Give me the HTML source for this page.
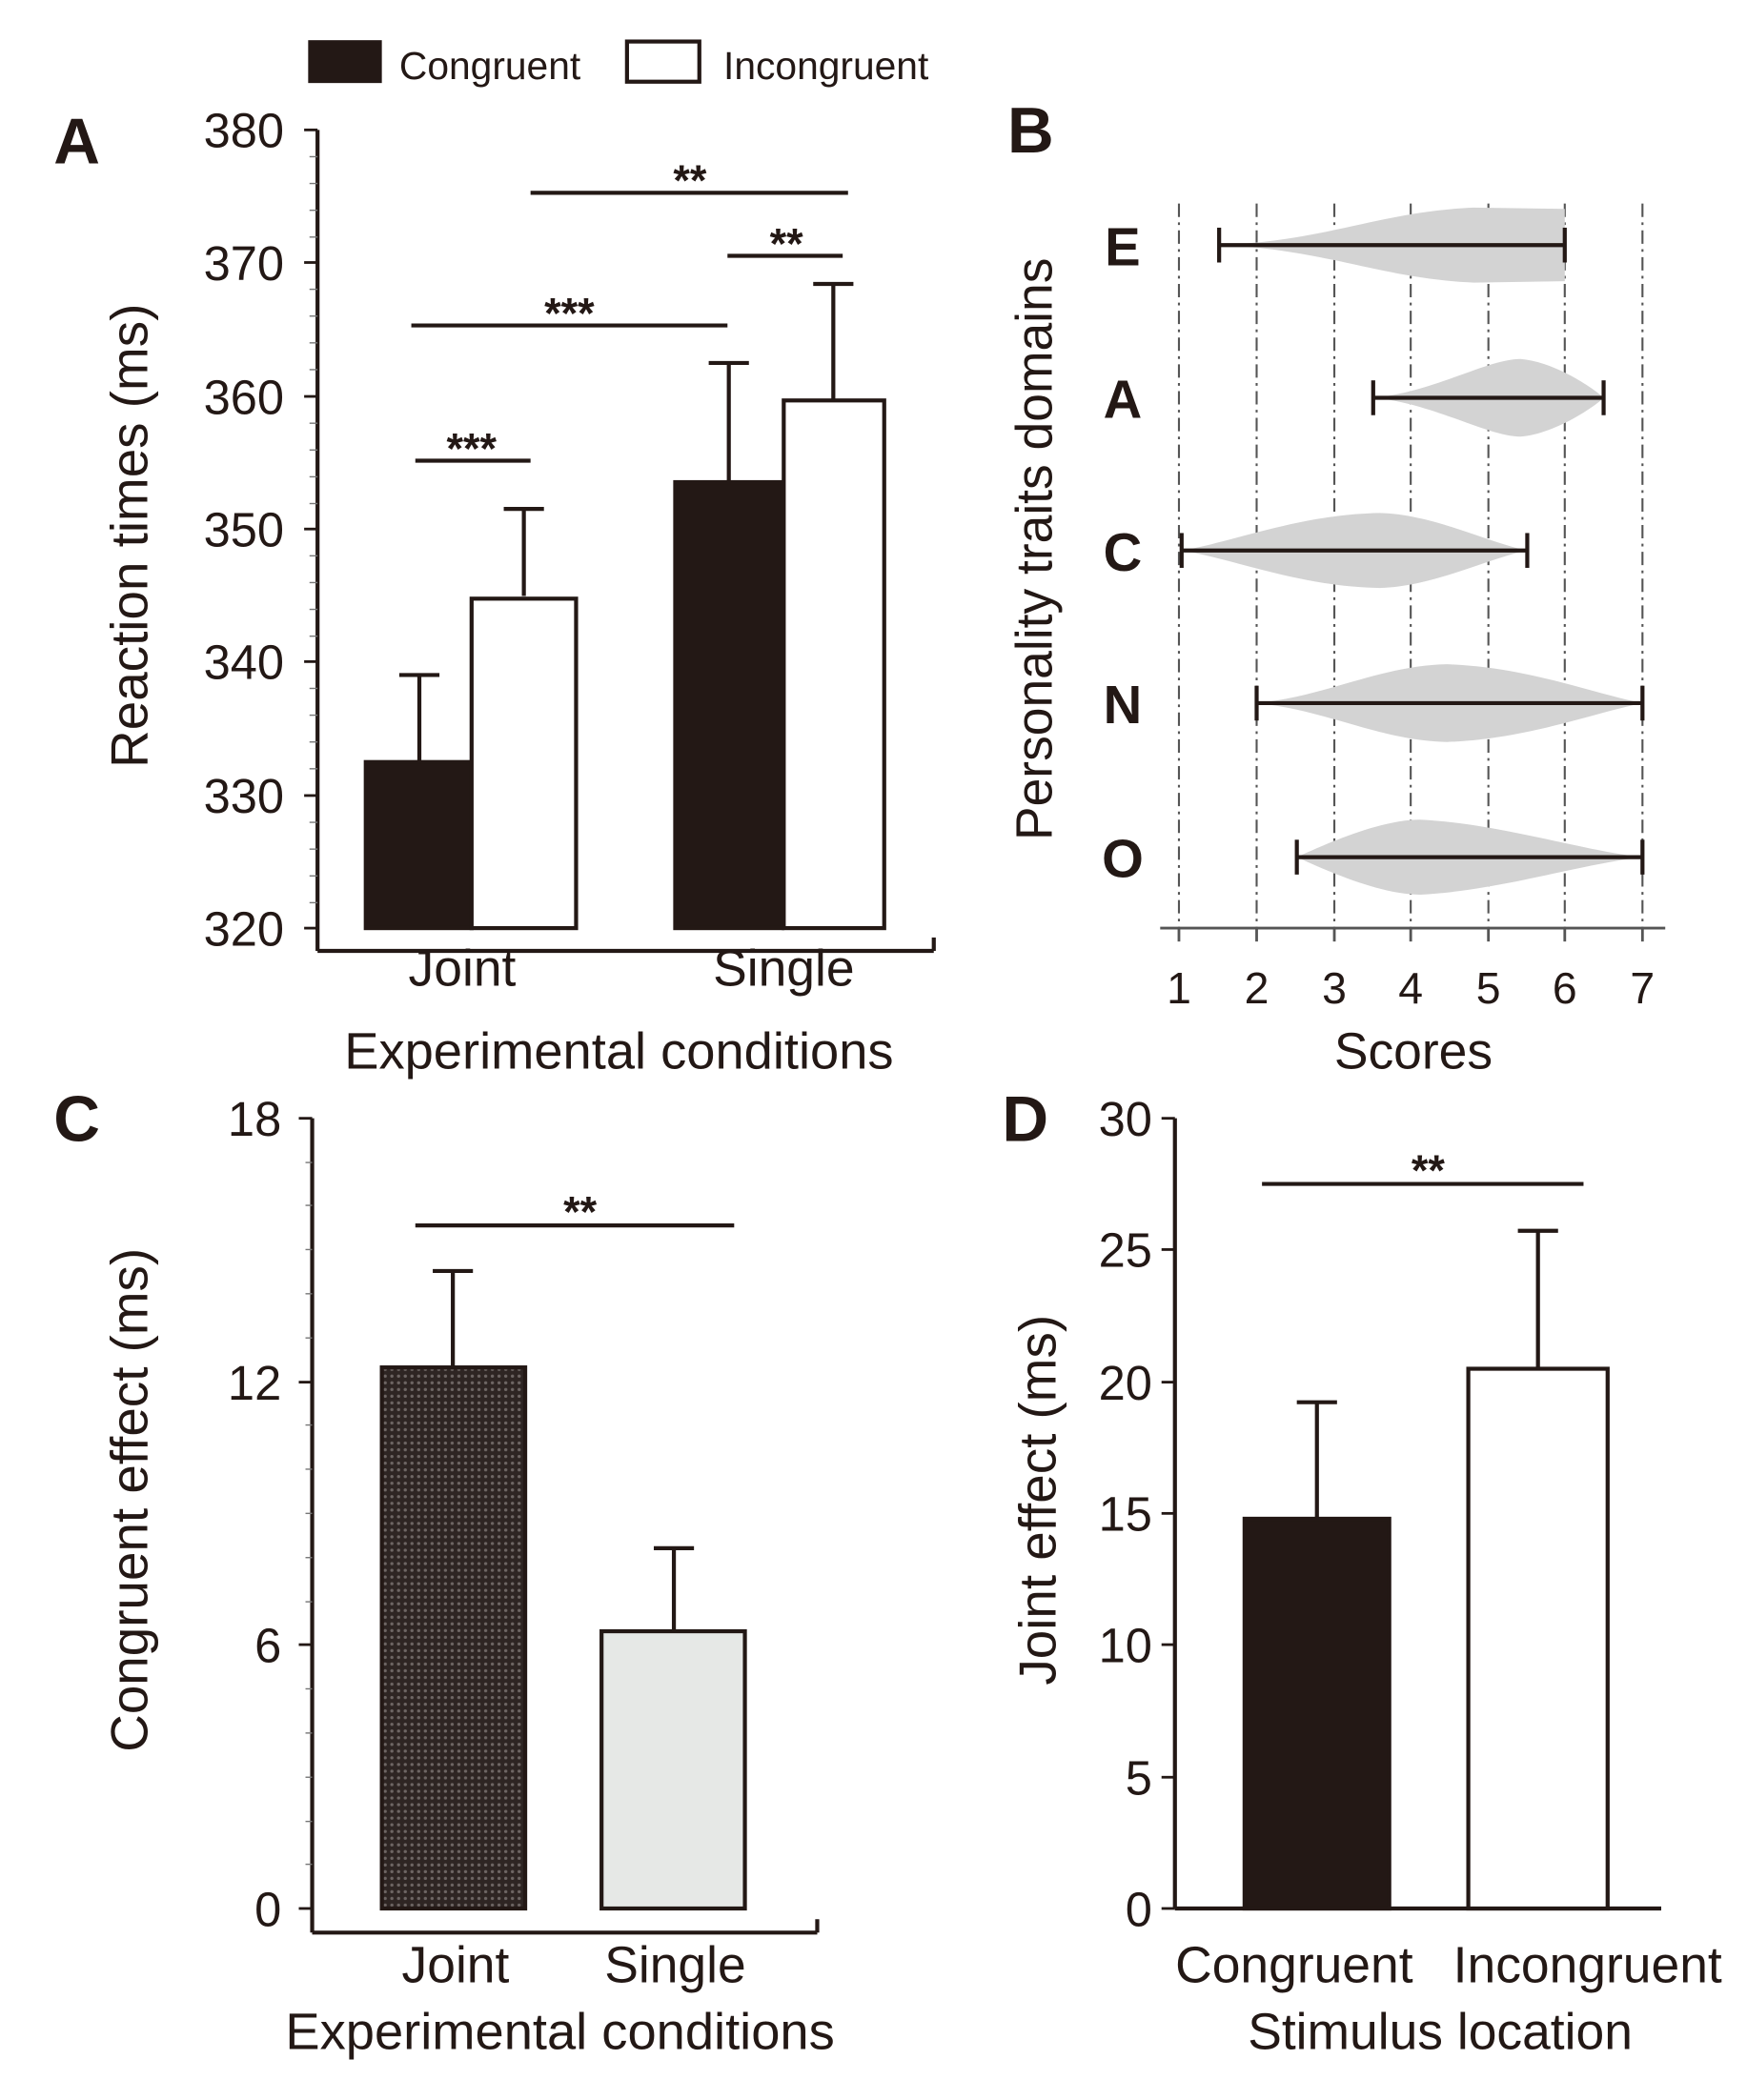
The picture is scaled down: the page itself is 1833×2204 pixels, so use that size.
<!DOCTYPE html>
<html><head><meta charset="utf-8"><style>
html,body{margin:0;padding:0;background:#fff}
svg{display:block}
text{font-family:"Liberation Sans",Arial,sans-serif;fill:#231815}
</style></head><body>
<svg width="1833" height="2204" viewBox="0 0 1304 1568" xmlns="http://www.w3.org/2000/svg">
<defs>
<pattern id="hatch" width="5" height="5" patternUnits="userSpaceOnUse">
<rect width="5" height="5" fill="#2e2523"/>
<circle cx="2.5" cy="2.5" r="1.2" fill="#6e6664"/>
</pattern>
</defs>
<g stroke="#231815" stroke-width="3" fill="none">
<line x1="237" y1="97" x2="237" y2="710"/>
<line x1="237" y1="710" x2="697" y2="710"/>
<line x1="697" y1="700" x2="697" y2="710"/>
</g>
<g stroke="#231815" stroke-width="2">
<line x1="227" y1="97" x2="237" y2="97"/><line x1="227" y1="196" x2="237" y2="196"/>
<line x1="227" y1="296" x2="237" y2="296"/><line x1="227" y1="395" x2="237" y2="395"/>
<line x1="227" y1="494" x2="237" y2="494"/><line x1="227" y1="594" x2="237" y2="594"/>
<line x1="227" y1="693" x2="237" y2="693"/>
</g>
<g stroke="#777" stroke-width="1">
<line x1="231" y1="117" x2="237" y2="117"/><line x1="231" y1="137" x2="237" y2="137"/><line x1="231" y1="157" x2="237" y2="157"/><line x1="231" y1="177" x2="237" y2="177"/>
<line x1="231" y1="216" x2="237" y2="216"/><line x1="231" y1="236" x2="237" y2="236"/><line x1="231" y1="256" x2="237" y2="256"/><line x1="231" y1="276" x2="237" y2="276"/>
<line x1="231" y1="316" x2="237" y2="316"/><line x1="231" y1="336" x2="237" y2="336"/><line x1="231" y1="356" x2="237" y2="356"/><line x1="231" y1="376" x2="237" y2="376"/>
<line x1="231" y1="415" x2="237" y2="415"/><line x1="231" y1="435" x2="237" y2="435"/><line x1="231" y1="455" x2="237" y2="455"/><line x1="231" y1="475" x2="237" y2="475"/>
<line x1="231" y1="514" x2="237" y2="514"/><line x1="231" y1="534" x2="237" y2="534"/><line x1="231" y1="554" x2="237" y2="554"/><line x1="231" y1="574" x2="237" y2="574"/>
<line x1="231" y1="614" x2="237" y2="614"/><line x1="231" y1="634" x2="237" y2="634"/><line x1="231" y1="654" x2="237" y2="654"/><line x1="231" y1="674" x2="237" y2="674"/>
</g>
<g font-size="36" text-anchor="end">
<text x="212" y="110">380</text><text x="212" y="209">370</text><text x="212" y="309">360</text>
<text x="212" y="408">350</text><text x="212" y="507">340</text><text x="212" y="607">330</text>
<text x="212" y="706">320</text>
</g>
<text x="40" y="122" font-size="48" font-weight="bold">A</text>
<text transform="translate(110,400) rotate(-90)" font-size="39" text-anchor="middle">Reaction times (ms)</text>
<rect x="230" y="30" width="55" height="32" fill="#231815"/>
<text x="298" y="59" font-size="29">Congruent</text>
<rect x="468" y="31" width="54" height="30" fill="#fff" stroke="#231815" stroke-width="3"/>
<text x="540" y="59" font-size="29">Incongruent</text>
<g stroke="#231815" stroke-width="3">
<line x1="313" y1="569" x2="313" y2="504"/><line x1="298" y1="504" x2="328" y2="504"/>
<line x1="391" y1="445" x2="391" y2="380"/><line x1="376" y1="380" x2="406" y2="380"/>
<line x1="544" y1="360" x2="544" y2="271"/><line x1="529" y1="271" x2="559" y2="271"/>
<line x1="622" y1="298" x2="622" y2="212"/><line x1="607" y1="212" x2="637" y2="212"/>
<rect x="273" y="569" width="79" height="124" fill="#231815"/>
<rect x="352" y="447" width="78" height="246" fill="#fff"/>
<rect x="504" y="360" width="80" height="333" fill="#231815"/>
<rect x="585" y="299" width="75" height="394" fill="#fff"/>
<line x1="310" y1="344" x2="396" y2="344"/>
<line x1="307" y1="243" x2="543" y2="243"/>
<line x1="543" y1="191" x2="629" y2="191"/>
<line x1="396" y1="144" x2="633" y2="144"/>
</g>
<g font-size="32" text-anchor="middle" font-weight="bold">
<text x="352" y="346">***</text><text x="425" y="245">***</text>
<text x="587" y="193">**</text><text x="515" y="146">**</text>
</g>
<g font-size="38" text-anchor="middle">
<text x="345" y="736">Joint</text><text x="585" y="736">Single</text>
<text x="462" y="798" textLength="410" lengthAdjust="spacingAndGlyphs">Experimental conditions</text>
</g>
<text x="752" y="114" font-size="48" font-weight="bold">B</text>
<text transform="translate(785,410) rotate(-90)" font-size="38" text-anchor="middle">Personality traits domains</text>
<g stroke="#555" stroke-width="1.5" stroke-dasharray="10,4,2,4">
<line x1="880" y1="152" x2="880" y2="693"/><line x1="938" y1="152" x2="938" y2="693"/>
<line x1="996" y1="152" x2="996" y2="693"/><line x1="1053" y1="152" x2="1053" y2="693"/>
<line x1="1111" y1="152" x2="1111" y2="693"/><line x1="1168" y1="152" x2="1168" y2="693"/>
<line x1="1226" y1="152" x2="1226" y2="693"/>
</g>
<g fill="#d3d3d3">
<path d="M910,183 C990,180 1030,158 1100,155 L1168,156 L1168,210 L1100,211 C1030,208 990,186 910,183Z"/>
<path d="M1025,297 C1070,293 1110,268 1135,268 C1160,270 1190,290 1197,297 C1190,304 1160,324 1135,326 C1110,326 1070,301 1025,297Z"/>
<path d="M882,411 C920,405 970,384 1030,383 C1070,384 1110,405 1140,411 C1110,417 1070,438 1030,439 C970,438 920,417 882,411Z"/>
<path d="M938,525 C990,520 1030,497 1080,496 C1140,498 1190,518 1226,525 C1190,532 1140,552 1080,554 C1030,553 990,530 938,525Z"/>
<path d="M968,640 C990,630 1030,612 1060,612 C1120,615 1180,635 1226,640 C1180,645 1120,665 1060,668 C1030,668 990,650 968,640Z"/>
</g>
<g stroke="#231815" stroke-width="3">
<line x1="910" y1="183" x2="1168" y2="183"/><line x1="910" y1="170" x2="910" y2="196"/><line x1="1168" y1="170" x2="1168" y2="196"/>
<line x1="1025" y1="297" x2="1197" y2="297"/><line x1="1025" y1="284" x2="1025" y2="310"/><line x1="1197" y1="284" x2="1197" y2="310"/>
<line x1="882" y1="411" x2="1140" y2="411"/><line x1="882" y1="398" x2="882" y2="424"/><line x1="1140" y1="398" x2="1140" y2="424"/>
<line x1="938" y1="525" x2="1226" y2="525"/><line x1="938" y1="512" x2="938" y2="538"/><line x1="1226" y1="512" x2="1226" y2="538"/>
<line x1="968" y1="640" x2="1226" y2="640"/><line x1="968" y1="627" x2="968" y2="653"/><line x1="1226" y1="627" x2="1226" y2="653"/>
</g>
<line x1="866" y1="693" x2="1243" y2="693" stroke="#555" stroke-width="2"/>
<g stroke="#555" stroke-width="2">
<line x1="880" y1="693" x2="880" y2="703"/><line x1="938" y1="693" x2="938" y2="703"/><line x1="996" y1="693" x2="996" y2="703"/>
<line x1="1053" y1="693" x2="1053" y2="703"/><line x1="1111" y1="693" x2="1111" y2="703"/><line x1="1168" y1="693" x2="1168" y2="703"/><line x1="1226" y1="693" x2="1226" y2="703"/>
</g>
<g font-size="40" font-weight="bold" text-anchor="middle">
<text x="838" y="198">E</text><text x="838" y="312">A</text><text x="838" y="426">C</text>
<text x="838" y="540">N</text><text x="838" y="655">O</text>
</g>
<g font-size="33" text-anchor="middle">
<text x="880" y="749">1</text><text x="938" y="749">2</text><text x="996" y="749">3</text><text x="1053" y="749">4</text>
<text x="1111" y="749">5</text><text x="1168" y="749">6</text><text x="1226" y="749">7</text>
</g>
<text x="1055" y="798" font-size="38" text-anchor="middle">Scores</text>
<text x="40" y="852" font-size="48" font-weight="bold">C</text>
<text transform="translate(110,1120) rotate(-90)" font-size="39" text-anchor="middle">Congruent effect (ms)</text>
<g stroke="#231815" stroke-width="3" fill="none">
<line x1="233" y1="835" x2="233" y2="1443"/>
<line x1="233" y1="1443" x2="610" y2="1443"/><line x1="610" y1="1433" x2="610" y2="1443"/>
</g>
<g stroke="#231815" stroke-width="2">
<line x1="223" y1="835" x2="233" y2="835"/><line x1="223" y1="1032" x2="233" y2="1032"/>
<line x1="223" y1="1228" x2="233" y2="1228"/><line x1="223" y1="1425" x2="233" y2="1425"/>
</g>
<g stroke="#777" stroke-width="1">
<line x1="228" y1="868" x2="233" y2="868"/><line x1="228" y1="900" x2="233" y2="900"/><line x1="228" y1="933" x2="233" y2="933"/><line x1="228" y1="966" x2="233" y2="966"/><line x1="228" y1="999" x2="233" y2="999"/>
<line x1="228" y1="1064" x2="233" y2="1064"/><line x1="228" y1="1097" x2="233" y2="1097"/><line x1="228" y1="1130" x2="233" y2="1130"/><line x1="228" y1="1163" x2="233" y2="1163"/><line x1="228" y1="1196" x2="233" y2="1196"/>
<line x1="228" y1="1261" x2="233" y2="1261"/><line x1="228" y1="1294" x2="233" y2="1294"/><line x1="228" y1="1327" x2="233" y2="1327"/><line x1="228" y1="1360" x2="233" y2="1360"/><line x1="228" y1="1392" x2="233" y2="1392"/>
</g>
<g font-size="36" text-anchor="end">
<text x="210" y="848">18</text><text x="210" y="1045">12</text><text x="210" y="1241">6</text><text x="210" y="1438">0</text>
</g>
<g stroke="#231815" stroke-width="3">
<line x1="338" y1="1022" x2="338" y2="949"/><line x1="323" y1="949" x2="353" y2="949"/>
<line x1="503" y1="1218" x2="503" y2="1156"/><line x1="488" y1="1156" x2="518" y2="1156"/>
<rect x="285" y="1021" width="107" height="404" fill="url(#hatch)"/>
<rect x="449" y="1218" width="107" height="207" fill="#e6e8e6"/>
<line x1="310" y1="915" x2="548" y2="915"/>
</g>
<text x="433" y="916" font-size="32" font-weight="bold" text-anchor="middle">**</text>
<g font-size="38" text-anchor="middle">
<text x="340" y="1480">Joint</text><text x="504" y="1480">Single</text>
<text x="418" y="1530" textLength="410" lengthAdjust="spacingAndGlyphs">Experimental conditions</text>
</g>
<text x="748" y="852" font-size="48" font-weight="bold">D</text>
<text transform="translate(788,1120) rotate(-90)" font-size="39" text-anchor="middle">Joint effect (ms)</text>
<g stroke="#231815" stroke-width="3" fill="none">
<line x1="877" y1="835" x2="877" y2="1425"/>
<line x1="877" y1="1425" x2="1240" y2="1425"/>
</g>
<g stroke="#231815" stroke-width="2">
<line x1="867" y1="835" x2="877" y2="835"/><line x1="867" y1="933" x2="877" y2="933"/>
<line x1="867" y1="1032" x2="877" y2="1032"/><line x1="867" y1="1130" x2="877" y2="1130"/>
<line x1="867" y1="1228" x2="877" y2="1228"/><line x1="867" y1="1327" x2="877" y2="1327"/>
<line x1="867" y1="1425" x2="877" y2="1425"/>
</g>
<g font-size="36" text-anchor="end">
<text x="860" y="848">30</text><text x="860" y="946">25</text><text x="860" y="1045">20</text>
<text x="860" y="1143">15</text><text x="860" y="1241">10</text><text x="860" y="1340">5</text><text x="860" y="1438">0</text>
</g>
<g stroke="#231815" stroke-width="3">
<line x1="983" y1="1134" x2="983" y2="1047"/><line x1="968" y1="1047" x2="998" y2="1047"/>
<line x1="1148" y1="1022" x2="1148" y2="919"/><line x1="1133" y1="919" x2="1163" y2="919"/>
<rect x="929" y="1134" width="108" height="291" fill="#231815"/>
<rect x="1096" y="1022" width="104" height="403" fill="#fff"/>
<line x1="942" y1="884" x2="1182" y2="884"/>
</g>
<text x="1066" y="885" font-size="32" font-weight="bold" text-anchor="middle">**</text>
<g font-size="38" text-anchor="middle">
<text x="966" y="1480">Congruent</text><text x="1185" y="1480">Incongruent</text>
<text x="1075" y="1530">Stimulus location</text>
</g>
</svg>
</body></html>
